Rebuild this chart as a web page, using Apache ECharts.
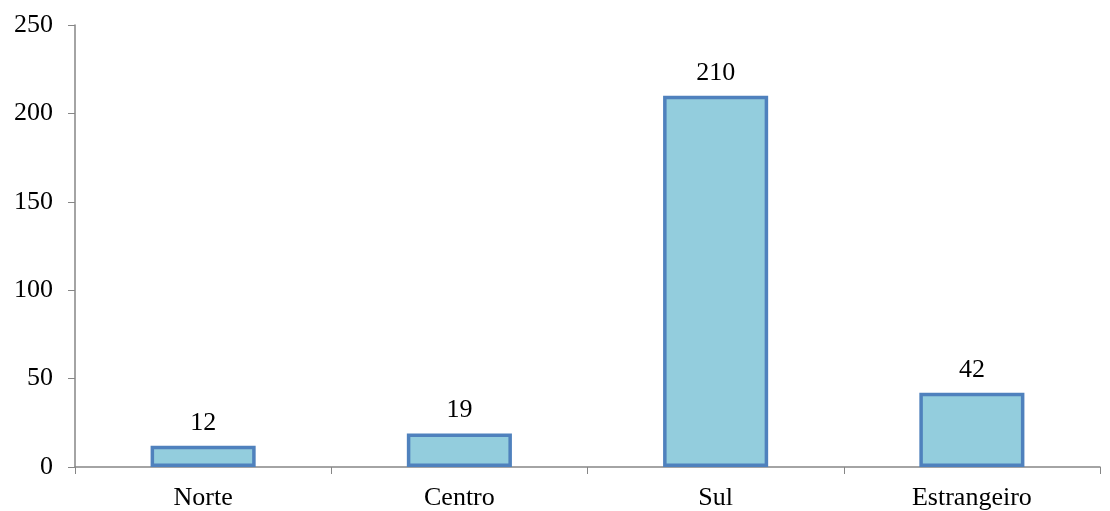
<!DOCTYPE html>
<html>
<head>
<meta charset="utf-8">
<script src="https://cdn.jsdelivr.net/npm/echarts@6/dist/echarts.min.js"></script>
<style>
html, body { margin: 0; padding: 0; background: #fff; }
#chart { width: 1110px; height: 511px; }
</style>
</head>
<body>
<div id="chart"></div>
<script>
var regions = ['Norte', 'Centro', 'Sul', 'Estrangeiro'];
var counts = [12, 19, 210, 42];

var font = '"Liberation Serif", "Times New Roman", serif';
var axisColor = '#868686';

var myChart = echarts.init(document.getElementById('chart'));
myChart.setOption({
    animation: false,
    grid: { left: 75, right: 10, top: 25, bottom: 43 },
    xAxis: {
        type: 'category',
        data: regions,
        axisLine: { lineStyle: { color: axisColor, width: 1.5 } },
        axisTick: { show: true, alignWithLabel: false, length: 7, lineStyle: { color: axisColor } },
        axisLabel: { color: '#000', fontFamily: font, fontSize: 26, margin: 18 }
    },
    yAxis: {
        type: 'value',
        min: 0,
        max: 250,
        interval: 50,
        splitLine: { show: false },
        axisLine: { show: true, lineStyle: { color: axisColor, width: 1.5 } },
        axisTick: { show: true, length: 7, lineStyle: { color: axisColor } },
        axisLabel: { color: '#000', fontFamily: font, fontSize: 26, margin: 22 }
    },
    series: [{
        type: 'bar',
        data: counts,
        barWidth: '41%',
        itemStyle: { color: '#93CDDD', borderColor: '#4F81BD', borderWidth: 3.5 },
        label: {
            show: true,
            position: 'top',
            distance: 10,
            color: '#000',
            fontFamily: font,
            fontSize: 26
        }
    }]
});
</script>
</body>
</html>
